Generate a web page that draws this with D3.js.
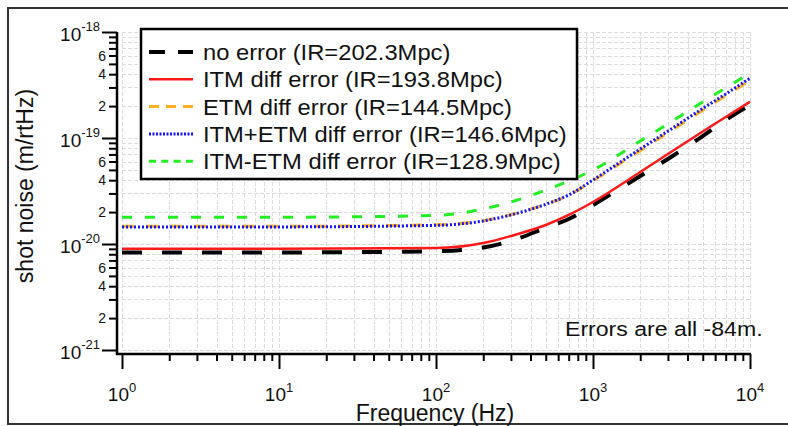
<!DOCTYPE html>
<html>
<head>
<meta charset="utf-8">
<script src="https://cdn.jsdelivr.net/npm/d3@7"></script>
<style>
  body { margin: 0; background: #fff; }
  svg { display: block; font-family: "Liberation Sans", Arial, Helvetica, sans-serif; }
</style>
</head>
<body>
<div id="chart"></div>
<script>
var freqs = [1, 10, 100, 200, 300, 500, 700, 1000, 2000, 3000, 5000, 7000, 10000];

// shot noise (m/rtHz) per case
var noError   = [8.32e-21, 8.32e-21, 8.55e-21, 9.27e-21, 1.07e-20, 1.42e-20, 1.72e-20, 2.33e-20, 4.38e-20, 6.34e-20, 1.04e-19, 1.48e-19, 2.05e-19];
var itmDiff   = [9.0e-21, 9.0e-21, 9.15e-21, 1.02e-20, 1.19e-20, 1.51e-20, 1.88e-20, 2.49e-20, 4.78e-20, 7.06e-20, 1.15e-19, 1.58e-19, 2.20e-19];
var etmDiff   = [1.47e-20, 1.47e-20, 1.52e-20, 1.66e-20, 1.89e-20, 2.37e-20, 2.88e-20, 3.95e-20, 7.6e-20, 1.12e-19, 1.83e-19, 2.5e-19, 3.5e-19];
var itmPlusEtm  = [1.45e-20, 1.45e-20, 1.50e-20, 1.65e-20, 1.88e-20, 2.37e-20, 2.90e-20, 4.02e-20, 7.87e-20, 1.16e-19, 1.90e-19, 2.60e-19, 3.66e-19];
var itmMinusEtm = [1.79e-20, 1.79e-20, 1.86e-20, 2.14e-20, 2.49e-20, 3.23e-20, 3.93e-20, 4.99e-20, 9.37e-20, 1.36e-19, 2.19e-19, 2.96e-19, 4.10e-19];

var seriesNames = [
  "no error (IR=202.3Mpc)",
  "ITM diff error (IR=193.8Mpc)",
  "ETM diff error (IR=144.5Mpc)",
  "ITM+ETM diff error (IR=146.6Mpc)",
  "ITM-ETM diff error (IR=128.9Mpc)"
];

var xDecades = [1, 10, 100, 1000, 10000];
var yDecades = [1e-21, 1e-20, 1e-19, 1e-18];
var yLabelledMinors = [2, 4, 6];

var note = "Errors are all -84m.";

var styles = [
  { color: "#000000", width: 4,   dash: "20,20", legDash: "16,13" },
  { color: "#ff1a1a", width: 2.5, dash: null,    legDash: null },
  { color: "#ffb020", width: 3,   dash: "12,12", legDash: "10,7" },
  { color: "#1414ff", width: 3,   dash: "2,2",   legDash: "2,1.5" },
  { color: "#22ee22", width: 3,   dash: "10,13", legDash: "7,5.3" }
];

var allSeries = [noError, itmDiff, etmDiff, itmPlusEtm, itmMinusEtm];

var svg = d3.select("#chart").append("svg")
    .attr("width", 788)
    .attr("height", 426);

// outer frame
svg.append("rect")
    .attr("x", 8).attr("y", 8)
    .attr("width", 792).attr("height", 416)
    .attr("fill", "none")
    .attr("stroke", "#333")
    .attr("stroke-width", 2);

var x = d3.scaleLog().domain([1, 1e4]).range([122, 750]);
var y = d3.scaleLog().domain([1e-21, 1e-18]).range([350, 32]);

var xTicks = [];
xDecades.forEach(function(d, i){
  if (i < xDecades.length - 1) for (var k = 1; k < 10; k++) xTicks.push(d * k);
  else xTicks.push(d);
});
var yTicks = [];
yDecades.forEach(function(d, i){
  if (i < yDecades.length - 1) for (var k = 1; k < 10; k++) yTicks.push(d * k);
  else yTicks.push(d);
});

function isDecade(v){
  var l = Math.log10(v);
  return Math.abs(l - Math.round(l)) < 1e-6;
}

// grid
var grid = svg.append("g")
    .attr("stroke", "#dcdcdc")
    .attr("stroke-width", 1)
    .attr("stroke-dasharray", "4,2");

grid.selectAll("line.gx")
    .data(xTicks)
    .enter().append("line")
    .attr("x1", function(d){ return Math.round(x(d)) + 0.5; })
    .attr("x2", function(d){ return Math.round(x(d)) + 0.5; })
    .attr("y1", 32).attr("y2", 350);

grid.selectAll("line.gy")
    .data(yTicks)
    .enter().append("line")
    .attr("y1", function(d){ return Math.round(y(d)) + 0.5; })
    .attr("y2", function(d){ return Math.round(y(d)) + 0.5; })
    .attr("x1", 122).attr("x2", 750);

// axes
var yAxisG = svg.append("g")
    .attr("transform", "translate(117,0)")
    .call(d3.axisLeft(y).tickValues(yTicks).tickSize(8).tickFormat(""));
yAxisG.select(".domain").remove();
yAxisG.selectAll(".tick line")
    .attr("stroke-width", 2)
    .attr("x2", function(d){ return isDecade(d) ? -15 : -8; });

var xAxisG = svg.append("g")
    .attr("transform", "translate(0,354)")
    .call(d3.axisBottom(x).tickValues(xTicks).tickSize(7).tickFormat(""));
xAxisG.select(".domain").remove();
xAxisG.selectAll(".tick line")
    .attr("stroke-width", 2)
    .attr("y2", function(d){ return isDecade(d) ? 15 : 7; });

svg.append("path")
    .attr("d", "M117,32 V354 H751")
    .attr("fill", "none")
    .attr("stroke", "#000")
    .attr("stroke-width", 2.5);

// y tick labels
yDecades.forEach(function(d){
  var t = svg.append("text")
      .attr("x", 100)
      .attr("y", y(d) + 9)
      .attr("text-anchor", "end")
      .attr("font-size", 19)
      .attr("fill", "#111");
  t.append("tspan").text("10");
  t.append("tspan").attr("dy", -10).attr("font-size", 13).text(Math.round(Math.log10(d)));
});

yTicks.filter(function(d){
  var m = Math.round(d / Math.pow(10, Math.floor(Math.log10(d) + 1e-9)));
  return yLabelledMinors.indexOf(m) >= 0 && !isDecade(d);
}).forEach(function(d){
  var m = Math.round(d / Math.pow(10, Math.floor(Math.log10(d) + 1e-9)));
  svg.append("text")
      .attr("x", 106)
      .attr("y", y(d) + 5)
      .attr("text-anchor", "end")
      .attr("font-size", 14)
      .attr("fill", "#111")
      .text(m);
});

// x tick labels
xDecades.forEach(function(d){
  var t = svg.append("text")
      .attr("x", x(d))
      .attr("y", 401)
      .attr("text-anchor", "middle")
      .attr("font-size", 19)
      .attr("fill", "#111");
  t.append("tspan").text("10");
  t.append("tspan").attr("dy", -9).attr("font-size", 13).text(Math.round(Math.log10(d)));
});

// axis titles
svg.append("text")
    .attr("x", 435).attr("y", 421)
    .attr("text-anchor", "middle")
    .attr("font-size", 23)
    .attr("fill", "#111")
    .text("Frequency (Hz)");

svg.append("text")
    .attr("transform", "translate(33,186) rotate(-90)")
    .attr("text-anchor", "middle")
    .attr("font-size", 23)
    .attr("fill", "#111")
    .text("shot noise (m/rtHz)");

// curves
var line = d3.line()
    .x(function(d){ return x(d[0]); })
    .y(function(d){ return y(d[1]); })
    .curve(d3.curveMonotoneX);

allSeries.forEach(function(vals, i){
  var pts = freqs.map(function(f, j){ return [f, vals[j]]; });
  svg.append("path")
      .datum(pts)
      .attr("d", line)
      .attr("fill", "none")
      .attr("stroke", styles[i].color)
      .attr("stroke-width", styles[i].width)
      .attr("stroke-dasharray", styles[i].dash);
});

// legend
var leg = svg.append("g");
leg.append("rect")
    .attr("x", 141).attr("y", 29)
    .attr("width", 436).attr("height", 150)
    .attr("fill", "#fff")
    .attr("stroke", "#000")
    .attr("stroke-width", 2.5);

seriesNames.forEach(function(name, i){
  var cy = 52 + i * 27.3;
  leg.append("line")
      .attr("x1", 149).attr("x2", 193)
      .attr("y1", cy).attr("y2", cy)
      .attr("stroke", styles[i].color)
      .attr("stroke-width", styles[i].width)
      .attr("stroke-dasharray", styles[i].legDash);
  leg.append("text")
      .attr("transform", "translate(203," + (cy + 8) + ") scale(1.08,1)")
      .attr("font-size", 22)
      .attr("fill", "#111")
      .text(name);
});

svg.append("text")
    .attr("transform", "translate(565,336) scale(1.1,1)")
    .attr("font-size", 21)
    .attr("fill", "#111")
    .text(note);
</script>
</body>
</html>
